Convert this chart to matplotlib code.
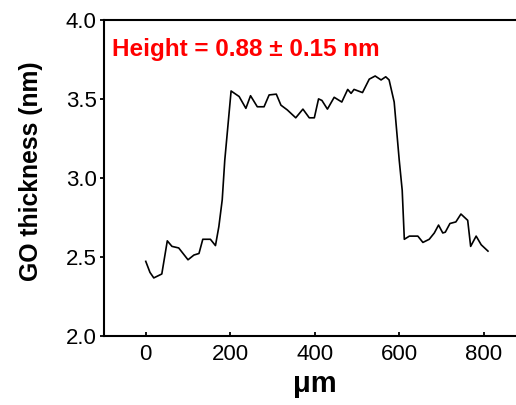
import matplotlib.pyplot as plt

plt.rcParams["font.family"] = ["Liberation Sans", "DejaVu Sans"]

# AFM line profile across the GO flake
pos_um = [0, 10, 19, 38, 51, 62, 78, 100, 114, 126, 135, 153, 165, 173, 181, 187,
          202, 221, 237, 248, 264, 280, 292, 309, 320, 335, 355, 372, 387, 399,
          409, 417, 430, 446, 464, 478, 486, 493, 513, 529, 543, 557, 568, 576,
          588, 600, 607, 612, 624, 644, 656, 671, 683, 693, 703, 709, 720, 734,
          746, 762, 769, 782, 794, 810]
thickness_nm = [2.47, 2.40, 2.365, 2.39, 2.60, 2.565, 2.555, 2.48, 2.51, 2.52, 2.61,
                2.61, 2.57, 2.69, 2.86, 3.11, 3.55, 3.515, 3.44, 3.52, 3.45, 3.45,
                3.525, 3.53, 3.46, 3.43, 3.38, 3.435, 3.38, 3.38, 3.50, 3.49, 3.435,
                3.51, 3.48, 3.56, 3.535, 3.56, 3.54, 3.625, 3.645, 3.62, 3.64, 3.62,
                3.48, 3.11, 2.92, 2.61, 2.63, 2.63, 2.59, 2.61, 2.65, 2.70, 2.65,
                2.655, 2.71, 2.72, 2.77, 2.73, 2.565, 2.63, 2.575, 2.535]

fig = plt.figure(figsize=(5.16, 4.05), dpi=100)
ax = fig.add_axes([103.5 / 516, 69.5 / 405, 422.5 / 516, 315.5 / 405])

ax.plot(pos_um, thickness_nm, color="black", lw=1.2)

ax.set_xlim(-100, 900)
ax.set_ylim(2.0, 4.0)
ax.set_xticks([0, 200, 400, 600, 800])
ax.set_yticks([2.0, 2.5, 3.0, 3.5, 4.0])
ax.tick_params(axis="x", direction="in", length=3, width=1.3, labelsize=16, pad=6)
ax.tick_params(axis="y", direction="out", length=3, width=1.3, labelsize=16, pad=2)
for s in ax.spines.values():
    s.set_linewidth(1.5)

fig.text(31 / 516, 1 - 171.5 / 405, "GO thickness (nm)", rotation=90,
         fontsize=17.8, fontweight="bold", ha="center", va="center")
ax.set_xlabel("μm", fontsize=21, fontweight="bold", labelpad=4)

ax.text(-80, 3.772, "Height = 0.88 ± 0.15 nm", color="#ff0000", fontsize=17.5,
        fontweight="bold", ha="left", va="baseline")

fig.savefig("out.png", dpi=100)
